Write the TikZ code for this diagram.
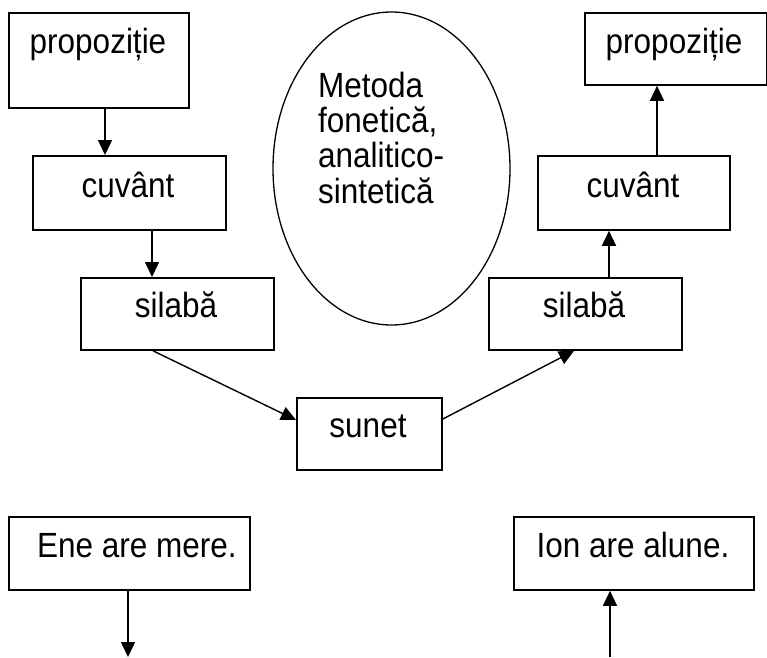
\documentclass[tikz,border=0pt]{standalone}
\usepackage{graphicx}
\usepackage{fontspec}
\setmainfont{Liberation Sans}
\usetikzlibrary{arrows.meta,shapes.geometric}
\newcommand\sqz[1]{\scalebox{0.9}[1]{#1}}
\tikzset{
  boxnode/.style={draw=black, line width=1.8pt, rectangle, inner sep=0pt, anchor=north west},
  lbl/.style={anchor=base, inner sep=0pt, font=\fontsize{35}{38}\selectfont},
  arr/.style={draw=black, line width=1.4pt, -{Triangle[length=15pt,width=14pt]}},
}
\begin{document}
\begin{tikzpicture}[x=1pt,y=-1pt]
\useasboundingbox (0,0) rectangle (767,657);
% boxes
\node[boxnode, minimum width=180, minimum height=95] (pL) at (8,12) {};
\node[boxnode, minimum width=193, minimum height=74] (cL) at (32,155) {};
\node[boxnode, minimum width=193, minimum height=72] (sL) at (80,277) {};
\node[boxnode, minimum width=145, minimum height=72] (sun) at (296,397) {};
\node[boxnode, minimum width=193, minimum height=72] (sR) at (488,277) {};
\node[boxnode, minimum width=192, minimum height=74] (cR) at (537,155) {};
\node[boxnode, minimum width=182, minimum height=72] (pR) at (584,12) {};
\node[boxnode, minimum width=241, minimum height=73] (ene) at (8,516) {};
\node[boxnode, minimum width=240, minimum height=73] (ion) at (513,516) {};
% ellipse
\node[draw=black, line width=1.3pt, ellipse, inner sep=0pt, minimum width=237, minimum height=313] (el) at (391.5,168.5) {};
% labels
\node[lbl] (tpL) at (98,53) {\sqz{propoziție}};
\node[lbl] (tcL) at (128,197) {\sqz{cuvânt}};
\node[lbl] (tsL) at (176,317) {\sqz{silabă}};
\node[lbl] (tsun) at (368,437) {\sqz{sunet}};
\node[lbl] (tsR) at (584,317) {\sqz{silabă}};
\node[lbl] (tcR) at (633,197) {\sqz{cuvânt}};
\node[lbl] (tpR) at (674,53) {\sqz{propoziție}};
\node[lbl] (tene) at (137,557) {\sqz{Ene are mere.}};
\node[lbl] (tion) at (633,557) {\sqz{Ion are alune.}};
\node[lbl, anchor=base west] (m1) at (318,97) {\sqz{Metoda}};
\node[lbl, anchor=base west] (m2) at (318,132) {\sqz{fonetică,}};
\node[lbl, anchor=base west] (m3) at (318,167) {\sqz{analitico-}};
\node[lbl, anchor=base west] (m4) at (318,203) {\sqz{sintetică}};
% free ends
\coordinate (eneEnd) at (128,657);
\coordinate (ionStart) at (610,657);
% arrows
\draw[arr] ([xshift=97pt]pL.south west) -- ([xshift=73pt]cL.north west);
\draw[arr] ([xshift=120pt]cL.south west) -- ([xshift=72pt]sL.north west);
\draw[arr] ([xshift=73pt]sL.south west) -- ([yshift=-23pt]sun.north west);
\draw[arr] ([yshift=-22pt]sun.north east) -- ([xshift=86pt]sR.south west);
\draw[arr] ([xshift=121pt]sR.north west) -- ([xshift=72pt]cR.south west);
\draw[arr] ([xshift=120pt]cR.north west) -- ([xshift=73pt]pR.south west);
\draw[arr] ([xshift=120pt]ene.south west) -- (eneEnd);
\draw[arr] (ionStart) -- ([xshift=97pt]ion.south west);
\end{tikzpicture}
\end{document}
